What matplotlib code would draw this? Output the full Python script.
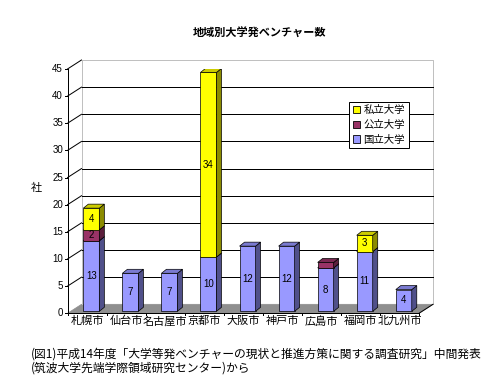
import matplotlib
matplotlib.use("Agg")
import matplotlib.pyplot as plt
from matplotlib.patches import Polygon, Patch
import numpy as np

plt.rcParams['font.family'] = ['Noto Sans CJK JP', 'DejaVu Sans']

# ---- data ----
cities = ["札幌市", "仙台市", "名古屋市", "京都市", "大阪市", "神戸市", "広島市", "福岡市", "北九州市"]
national = [13, 7, 7, 10, 12, 12, 8, 11, 4]     # 国立大学
public = [2, 0, 0, 0, 0, 0, 1, 0, 0]            # 公立大学
private = [4, 0, 0, 34, 0, 0, 0, 3, 0]          # 私立大学
series_names = ["国立大学", "公立大学", "私立大学"]
yticks = list(range(0, 50, 5))
title = "地域別大学発ベンチャー数"
ylabel = "社"
note1 = "(図1)平成14年度「大学等発ベンチャーの現状と推進方策に関する調査研究」中間発表"
note2 = "(筑波大学先端学際領域研究センター)から"

colors = {
    "国立大学": ("#9999FF", "#7A7AD0", "#50508A"),
    "公立大学": ("#993366", "#7A2952", "#5C1F3D"),
    "私立大学": ("#FFFF00", "#CCCC00", "#8C8C00"),
}

# ---- layout (pixels) ----
FW, FH = 489, 388
x0, x1 = 67.5, 419.0
y0, y1 = 313.3, 69.0
fig = plt.figure(figsize=(FW / 100, FH / 100), dpi=100)
fig.patch.set_facecolor("white")
ax = fig.add_axes([x0 / FW, 1 - y0 / FH, (x1 - x0) / FW, (y0 - y1) / FH])
n = len(cities)
ymax = 45
ax.set_xlim(0, n)
ax.set_ylim(0, ymax)
ax.axis("off")

sx = n / (x1 - x0)      # data units per px (x)
sy = ymax / (y0 - y1)   # data units per px (y)
BX, BY = 14 * sx, 9 * sy        # back wall offset
FX, FY = 4.3 * sx, 2 * sy       # bar front offset
DX, DY = 5 * sx, 4 * sy         # bar depth
BW = 16 * sx                    # bar front width
lw1 = 0.72

# floor
ax.add_patch(Polygon([(0, 0), (n, 0), (n + BX, BY), (BX, BY)], closed=True,
                     facecolor="#8F8F8F", edgecolor="#8F8F8F", lw=0.5, clip_on=False, zorder=1))
# back wall border
ax.plot([BX, BX, n + BX, n + BX], [BY, ymax + BY, ymax + BY, BY], color="#C0C0C0", lw=lw1,
        clip_on=False, zorder=1)
# gridlines on back wall and side wall
for v in yticks[1:]:
    if v < ymax:
        ax.plot([BX, n + BX], [v + BY, v + BY], color="black", lw=lw1, clip_on=False, zorder=1)
    ax.plot([0, BX], [v, v + BY], color="black", lw=lw1, clip_on=False, zorder=1)
# front axis
ax.plot([0, 0], [0, ymax], color="black", lw=lw1, clip_on=False, zorder=2)
ax.plot([0, n], [0, 0], color="black", lw=lw1, clip_on=False, zorder=2)
ax.plot([n, n + BX], [0, BY], color="black", lw=lw1, clip_on=False, zorder=2)
for v in yticks:
    ax.plot([-3 * sx, 0], [v, v], color="black", lw=lw1, clip_on=False, zorder=2)
    ax.text(-4.5 * sx, v, str(v), ha="right", va="center", fontsize=7,
            family=["Liberation Sans", "DejaVu Sans"])
for i in range(n + 1):
    ax.plot([i, i], [0, -2 * sy], color="black", lw=lw1, clip_on=False, zorder=2)
for i, c in enumerate(cities):
    ax.text(i + 0.5, -2.5 * sy, c, ha="center", va="top", fontsize=8)

# bars
for i in range(n):
    left = i + 0.5 - BW / 2 + FX
    right = left + BW
    base = FY
    for name, vals in zip(series_names, [national, public, private]):
        v = vals[i]
        if v <= 0:
            continue
        front, top, side = colors[name]
        b, t = base, base + v
        ax.add_patch(Polygon([(left, b), (right, b), (right, t), (left, t)], closed=True,
                             facecolor=front, edgecolor="black", lw=0.5, zorder=3))
        ax.add_patch(Polygon([(right, b), (right + DX, b + DY), (right + DX, t + DY), (right, t)],
                             closed=True, facecolor=side, edgecolor="black", lw=0.5, zorder=3))
        ax.add_patch(Polygon([(left, t), (right, t), (right + DX, t + DY), (left + DX, t + DY)],
                             closed=True, facecolor=top, edgecolor="black", lw=0.5, zorder=3))
        if v >= 2:
            ax.text((left + right) / 2, (b + t) / 2, str(v), ha="center", va="center",
                    fontsize=7, family=["Liberation Sans", "DejaVu Sans"], zorder=4)
        base = t

# legend
handles = [Patch(facecolor=colors[s][0], edgecolor="black", lw=0.6) for s in series_names[::-1]]
leg = fig.legend(handles, series_names[::-1], loc="upper left",
                 bbox_to_anchor=(349.5 / FW, 1 - 101.7 / FH), borderaxespad=0,
                 fontsize=7.5, handlelength=0.7, handleheight=0.7, handletextpad=0.3,
                 labelspacing=0.45, borderpad=0.35, fancybox=False, framealpha=1)
leg.get_frame().set_edgecolor("black")
leg.get_frame().set_linewidth(lw1)

# texts
fig.text(259.5 / FW, 1 - 33 / FH, title, ha="center", va="center", fontsize=8, fontweight="bold")
fig.text(36 / FW, 1 - 188 / FH, ylabel, ha="center", va="center", fontsize=8)
fig.text(31 / FW, 1 - 354 / FH, note1, ha="left", va="center", fontsize=8.5)
fig.text(31 / FW, 1 - 368 / FH, note2, ha="left", va="center", fontsize=8.5)

fig.savefig("out.png", dpi=100, facecolor="white")
